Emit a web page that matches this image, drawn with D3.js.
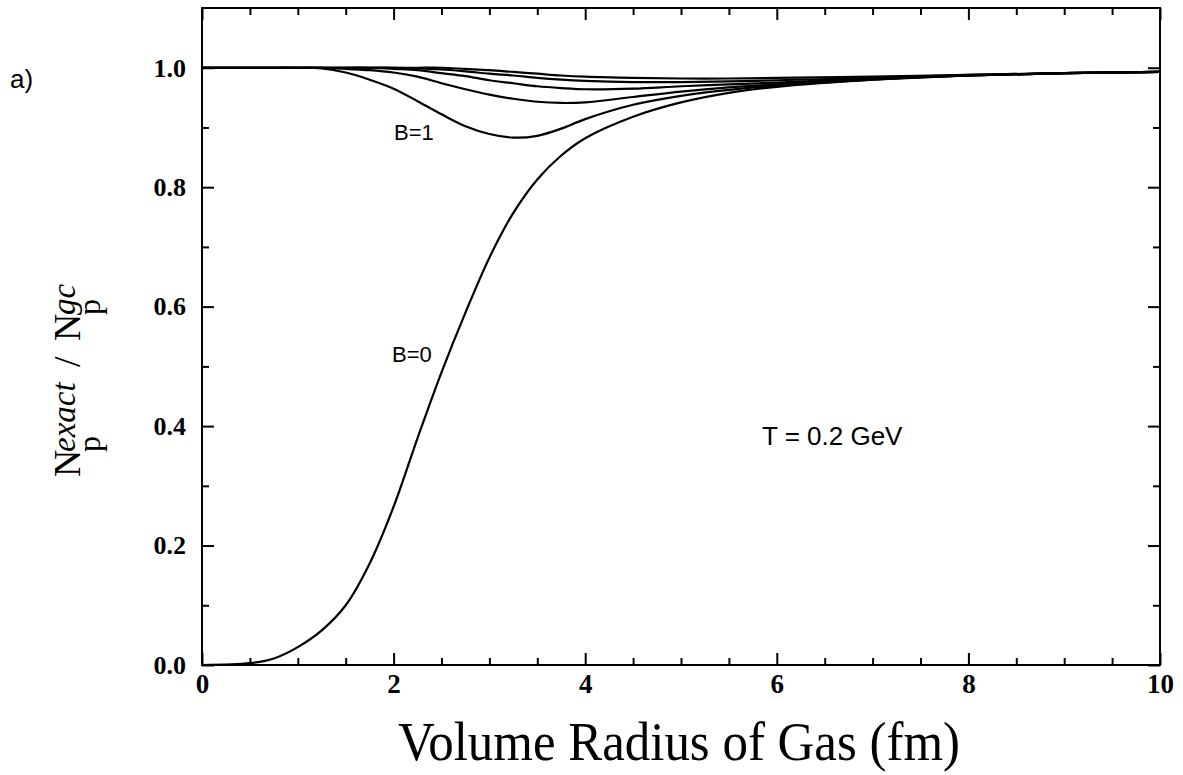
<!DOCTYPE html>
<html>
<head>
<meta charset="utf-8">
<script src="https://cdn.jsdelivr.net/npm/d3@7"></script>
<style>
  body { margin: 0; background: #fff; }
  svg { display: block; }
  .tick text { font-family: "Liberation Serif", "Times New Roman", serif; font-weight: bold; }
</style>
</head>
<body>
<div id="chart"></div>
<script>
const radius = [0, 0.5, 0.75, 1, 1.25, 1.5, 1.75, 2, 2.25, 2.5, 2.75, 3, 3.25, 3.5, 3.75, 4, 4.5, 5, 5.5, 6, 7, 8, 9, 10];

// ratio N_exact / N_gc for each baryon number
const ratioB0 = [0, 0.003, 0.011, 0.03, 0.058, 0.1, 0.17, 0.265, 0.38, 0.49, 0.59, 0.682, 0.757, 0.813, 0.853, 0.882, 0.918, 0.942, 0.958, 0.968, 0.98, 0.987, 0.991, 0.993];
const ratioB1 = [1, 1, 1, 1, 0.999, 0.992, 0.98, 0.965, 0.944, 0.922, 0.902, 0.889, 0.883, 0.886, 0.898, 0.914, 0.938, 0.953, 0.963, 0.970, 0.98, 0.987, 0.991, 0.993];
const ratioB2 = [1, 1, 1, 1, 1, 0.998, 0.996, 0.992, 0.985, 0.974, 0.964, 0.955, 0.948, 0.943, 0.941, 0.942, 0.951, 0.96, 0.967, 0.972, 0.981, 0.987, 0.991, 0.993];
const ratioB3 = [1, 1, 1, 1, 1, 1, 1, 0.998, 0.996, 0.991, 0.986, 0.979, 0.974, 0.969, 0.966, 0.964, 0.965, 0.969, 0.972, 0.975, 0.982, 0.987, 0.991, 0.993];
const ratioB4 = [1, 1, 1, 1, 1, 1, 1, 1, 0.999, 0.997, 0.994, 0.99, 0.987, 0.983, 0.98, 0.978, 0.976, 0.976, 0.977, 0.979, 0.983, 0.988, 0.991, 0.993];
const ratioB5 = [1, 1, 1, 1, 1, 1, 1, 1, 1, 1, 0.998, 0.996, 0.993, 0.99, 0.987, 0.985, 0.983, 0.982, 0.982, 0.983, 0.985, 0.988, 0.991, 0.993];

const xMajor = [0, 2, 4, 6, 8, 10];
const xMinor = [0.5, 1, 1.5, 2.5, 3, 3.5, 4.5, 5, 5.5, 6.5, 7, 7.5, 8.5, 9, 9.5];
const yMajor = [0, 0.2, 0.4, 0.6, 0.8, 1.0];
const yMinor = [0.1, 0.3, 0.5, 0.7, 0.9];

const W = 1183, H = 775;
const margin = {left: 202, top: 8, right: 23, bottom: 110};
const width = W - margin.left - margin.right;
const height = H - margin.top - margin.bottom;

const svg = d3.select("#chart").append("svg")
    .attr("width", W).attr("height", H);

const g = svg.append("g")
    .attr("transform", `translate(${margin.left},${margin.top})`);

const x = d3.scaleLinear().domain([0, 10]).range([0, width]);
const y = d3.scaleLinear().domain([0, 1.1]).range([height, 0]);

// inward ticks on all four sides
function addAxis(axisFn, scale, vals, size, labels, transform, pad) {
    const a = axisFn(scale).tickValues(vals).tickSize(-size).tickSizeOuter(0).tickPadding(pad || 3);
    if (!labels) a.tickFormat("");
    else a.tickFormat(d3.format(".1f"));
    const ax = g.append("g").attr("transform", transform || null).call(a);
    ax.select(".domain").remove();
    ax.selectAll("line").attr("stroke", "#000").attr("stroke-width", 2);
    return ax;
}

const bx = addAxis(d3.axisBottom, x, xMajor, 12, true, `translate(0,${height})`, 9);
bx.selectAll("text").text(d => d).style("font-size", "27px").attr("fill", "#000");
addAxis(d3.axisBottom, x, xMinor, 7, false, `translate(0,${height})`);
addAxis(d3.axisTop, x, xMajor, 12, false);
addAxis(d3.axisTop, x, xMinor, 7, false);

const ly = addAxis(d3.axisLeft, y, yMajor, 12, true, null, 16);
ly.selectAll("text").style("font-size", "26px").attr("fill", "#000");
addAxis(d3.axisLeft, y, yMinor, 7, false);
addAxis(d3.axisRight, y, yMajor, 12, false, `translate(${width},0)`);
addAxis(d3.axisRight, y, yMinor, 7, false, `translate(${width},0)`);

// frame
g.append("rect")
    .attr("x", 0).attr("y", 0)
    .attr("width", width).attr("height", height)
    .attr("fill", "none").attr("stroke", "#000").attr("stroke-width", 2);

// curves
const series = [ratioB0, ratioB1, ratioB2, ratioB3, ratioB4, ratioB5];
const line = d3.line()
    .x((d, i) => x(radius[i]))
    .y(d => y(d))
    .curve(d3.curveCatmullRom.alpha(0.5));

g.selectAll(".curve")
    .data(series)
    .enter().append("path")
    .attr("class", "curve")
    .attr("d", d => line(d))
    .attr("fill", "none")
    .attr("stroke", "#000")
    .attr("stroke-width", 2.2);

// annotations
const sans = "Liberation Sans, Arial, sans-serif";
svg.append("text").attr("x", 394).attr("y", 140).text("B=1")
    .attr("font-family", sans).attr("font-size", 22);
svg.append("text").attr("x", 392).attr("y", 362).text("B=0")
    .attr("font-family", sans).attr("font-size", 22);
svg.append("text").attr("x", 762).attr("y", 445).text("T = 0.2 GeV")
    .attr("font-family", sans).attr("font-size", 26);
svg.append("text").attr("x", 10).attr("y", 88).text("a)")
    .attr("font-family", sans).attr("font-size", 26);

// x title
const serif = "Liberation Serif, Times New Roman, serif";
svg.append("text")
    .attr("x", 679).attr("y", 760)
    .attr("text-anchor", "middle")
    .attr("font-family", serif)
    .attr("font-size", 54)
    .attr("textLength", 562)
    .attr("lengthAdjust", "spacingAndGlyphs")
    .text("Volume Radius of Gas (fm)");

// y title: N_p^exact / N_p^gc, rotated
const yt = svg.append("g").attr("transform", "translate(80,477) rotate(-90)");
const parts = [
    {t: "N", x: 0, y: 0, s: 38, it: false},
    {t: "exact", x: 25, y: -5, s: 33, it: true},
    {t: "p", x: 25, y: 20, s: 32, it: false},
    {t: "/", x: 110, y: 0, s: 38, it: false},
    {t: "N", x: 136, y: 0, s: 38, it: false},
    {t: "gc", x: 162, y: -5, s: 33, it: true},
    {t: "p", x: 162, y: 20, s: 32, it: false}
];
yt.selectAll("text")
    .data(parts)
    .enter().append("text")
    .attr("x", d => d.x).attr("y", d => d.y)
    .attr("font-family", serif)
    .attr("font-size", d => d.s)
    .attr("font-style", d => d.it ? "italic" : "normal")
    .text(d => d.t);
</script>
</body>
</html>
